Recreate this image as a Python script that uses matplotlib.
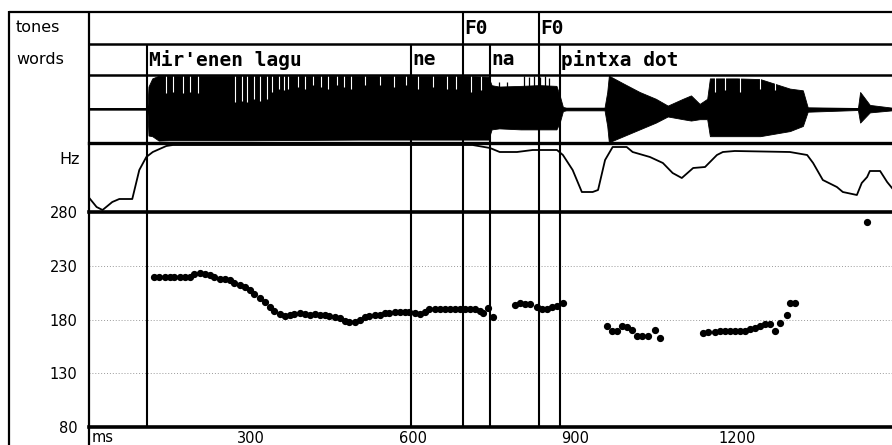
import matplotlib
matplotlib.use("Agg")
import matplotlib.pyplot as plt
from matplotlib.lines import Line2D

# time axis (ms)
t_max = 1487

# tier boundaries
tone_ms = [693, 834]
tone_txt = ["F0", "F0"]
word_ms = [109, 597, 743.5, 872]
word_txt = ["Mir'enen lagu", "ne", "na", "pintxa dot"]

# waveform envelope (normalised amplitude)
wave_ms = [0, 109, 111, 118, 130, 150, 300, 500, 700, 740, 746, 760, 800, 830,
           838, 866, 872, 878, 884, 955, 960, 963, 990, 1020, 1050, 1072, 1100,
           1115, 1131, 1145, 1150, 1200, 1243, 1298, 1322, 1331, 1424, 1428,
           1446, 1487]
wave_hi = [0.02, 0.02, 0.66, 0.9, 0.98, 0.97, 0.98, 0.97, 0.97, 0.95, 0.7, 0.66,
           0.68, 0.7, 0.7, 0.68, 0.4, 0.06, 0.04, 0.04, 0.5, 0.98, 0.75, 0.5,
           0.3, 0.1, 0.3, 0.4, 0.15, 0.3, 0.9, 0.9, 0.88, 0.6, 0.55, 0.05, 0.03,
           0.5, 0.12, 0.04]
wave_lo = [-0.02, -0.02, -0.78, -0.8, -0.93, -0.92, -0.92, -0.9, -0.9, -0.9,
           -0.6, -0.57, -0.6, -0.6, -0.6, -0.6, -0.4, -0.06, -0.04, -0.04, -0.5,
           -0.98, -0.8, -0.6, -0.4, -0.22, -0.3, -0.34, -0.3, -0.3, -0.8, -0.8,
           -0.8, -0.65, -0.5, -0.08, -0.03, -0.4, -0.1, -0.04]
# white gaps between glottal pulses at the top of the waveform
gap_ms = [143, 157, 174, 187, 202, 272, 285, 294, 307, 317, 330, 339, 352,
          361, 370, 387, 400, 415, 431, 444, 459, 472, 485, 511, 539, 565,
          587, 609, 637, 663, 681, 707, 726, 1159, 1178, 1206, 1243, 1270]
gap_depth = [0.46, 0.5, 0.46, 0.5, 0.46, 0.22, 0.25, 0.22, 0.3, 0.25, 0.3,
             0.5, 0.6, 0.55, 0.6, 0.65, 0.6, 0.7, 0.65, 0.6, 0.7, 0.65, 0.6,
             0.7, 0.7, 0.65, 0.7, 0.6, 0.65, 0.6, 0.6, 0.5, 0.55,
             0.5, 0.55, 0.5, 0.6, 0.55]
# taller pulses in "na"
spike_ms = [760, 775, 806, 815, 825, 835, 845, 852]
spike_hi = [0.8, 0.78, 0.98, 0.95, 0.98, 0.95, 0.98, 0.9]

# intensity contour (arbitrary units)
int_ms = [0, 15, 26, 44, 57, 81, 94, 107, 119, 144, 156, 200, 711, 743, 761,
          793, 822, 867, 878, 896, 913, 933, 943, 956, 970, 983, 996, 1007,
          1039, 1063, 1081, 1098, 1119, 1141, 1163, 1174, 1196, 1298, 1330,
          1341, 1359, 1385, 1396, 1422, 1431, 1441, 1446, 1465, 1478, 1487]
int_val = [15, 5, 2, 10, 13, 13, 42, 55, 60, 66, 67, 67, 67, 64, 60, 60, 62,
           62, 57, 42, 20, 20, 22, 52, 65, 65, 65, 60, 55, 49, 39, 34, 44, 45,
           57, 60, 61, 60, 57, 49, 32, 25, 20, 17, 29, 35, 41, 41, 30, 24]

# F0 points (Hz)
f0_ms = [122, 131, 141, 150, 159, 169, 178, 187, 196, 206, 215, 224, 233, 243,
         252, 261, 270, 280, 289, 298, 307, 317, 326, 335, 344, 354, 363, 372,
         381, 391, 400, 409, 419, 428, 437, 446, 456, 465, 474, 483, 493, 502,
         511, 520, 530, 539, 548, 557, 567, 576, 585, 594, 604, 613, 622, 631,
         641, 650, 659, 669, 678, 687, 696, 706, 715, 724, 731, 739, 748,
         789, 798, 807, 817, 830, 839, 848, 857, 867, 878,
         959, 969, 978, 987, 996, 1006, 1015, 1024, 1035, 1048, 1057,
         1137, 1146, 1159, 1169, 1178, 1187, 1196, 1206, 1215, 1224, 1233,
         1243, 1252, 1261, 1270, 1280, 1292, 1298, 1307,
         1441]
f0_hz = [220, 220, 220, 220, 220, 220, 220, 220, 222, 223, 222, 221, 220, 218,
         218, 217, 214, 212, 210, 207, 204, 200, 196, 192, 188, 185, 183, 184,
         185, 186, 185, 184, 185, 184, 184, 183, 182, 181, 179, 178, 178, 180,
         182, 183, 184, 184.5, 186, 186, 187, 187, 187, 187, 186, 185, 187,
         189.5, 190, 190, 190, 190, 190, 190, 190, 190, 190, 188, 186, 191, 182,
         193.5, 195.6, 194.4, 194.1, 191.3, 189.7, 189.7, 191.3, 192.8, 195,
         174, 169.6, 169.6, 174, 173.4, 170.2, 164.6, 164.6, 164.6, 170.2, 162.5,
         167.2, 168.6, 168.6, 169.6, 169.6, 169.6, 169.6, 169.6, 169.6, 170.9,
         171.8, 174, 175.8, 175.8, 169.6, 176.5, 184.2, 195.6, 195.6,
         271]
f0_ticks = [80, 130, 180, 230, 280]
ms_ticks = [300, 600, 900, 1200]

W, H = 892, 445
fig = plt.figure(figsize=(W / 100, H / 100), dpi=100)


def box(top, bottom, left=88.5, right=892):
    return [left / W, 1 - bottom / H, (right - left) / W, (bottom - top) / H]


def fline(x0, y0, x1, y1, lw=1.6):
    fig.add_artist(Line2D([x0 / W, x1 / W], [1 - y0 / H, 1 - y1 / H],
                          color="black", lw=lw, solid_capstyle="butt"))


ax_t = fig.add_axes(box(12, 44))
ax_w = fig.add_axes(box(44, 75))
ax_s = fig.add_axes(box(75, 143))
ax_i = fig.add_axes(box(143, 212))
ax_f = fig.add_axes(box(212, 427))
axes = [ax_t, ax_w, ax_s, ax_i, ax_f]

for ax in axes:
    ax.set_xlim(0, t_max)
    for s in ["left", "right", "bottom"]:
        ax.spines[s].set_visible(False)
    ax.spines["top"].set_linewidth(1.8)
    ax.set_xticks([])
    ax.set_yticks([])
    for t in tone_ms:
        ax.axvline(t, color="black", lw=1.5, zorder=3)
    if ax is not ax_t:
        for t in word_ms:
            ax.axvline(t, color="black", lw=1.5, zorder=3)
ax_t.spines["top"].set_visible(False)
ax_i.spines["top"].set_linewidth(2.4)
ax_f.spines["top"].set_linewidth(2.6)
ax_f.spines["bottom"].set_visible(True)
ax_f.spines["bottom"].set_linewidth(2.6)

# outer frame and label column
fline(9, 12, 892, 12)
fline(9, 11, 9, 445)
fline(88.5, 11, 88.5, 445)

mono = dict(family="DejaVu Sans Mono", weight="bold", fontsize=14)
for t, s in zip(tone_ms, tone_txt):
    ax_t.text(t + 2, 0.5, s, va="center", ha="left", **mono)
for t, s in zip(word_ms, word_txt):
    ax_w.text(t + 3, 0.5, s, va="center", ha="left", **mono)
ax_w.set_ylim(0, 1)
ax_t.set_ylim(0, 1)

# waveform
ax_s.fill_between(wave_ms, wave_lo, wave_hi, color="black", lw=0.6)
ax_s.vlines(gap_ms, gap_depth, 1, color="white", lw=0.8)
ax_s.vlines(spike_ms, 0.6, spike_hi, color="black", lw=0.9)
ax_s.axhline(0, color="black", lw=1.4)
ax_s.set_ylim(-1, 1)

# intensity
ax_i.plot(int_ms, int_val, color="black", lw=1.3)
ax_i.set_ylim(0, 69)

# F0
ax_f.plot(f0_ms, f0_hz, "o", color="black", ms=4.2, mec="black")
ax_f.set_ylim(80, 280)
ax_f.set_yticks(f0_ticks)
ax_f.set_xticks(ms_ticks)
ax_f.tick_params(length=0, labelsize=10.5, pad=8)
ax_f.tick_params(axis="x", pad=3)
for v in f0_ticks[1:-1]:
    ax_f.axhline(v, color="#9a9a9a", lw=0.7, ls=(0, (1, 2)), zorder=0)
ax_f.text(6, -0.015, "ms", transform=ax_f.get_xaxis_transform(),
          va="top", ha="left", fontsize=10.5)

lab = dict(fontsize=11.5, color="black")
fig.text(16 / W, 1 - 28 / H, "tones", va="center", ha="left", **lab)
fig.text(16 / W, 1 - 60 / H, "words", va="center", ha="left", **lab)
fig.text(80 / W, 1 - 159 / H, "Hz", va="center", ha="right", **lab)

fig.savefig("out.png", dpi=100, facecolor="white")
